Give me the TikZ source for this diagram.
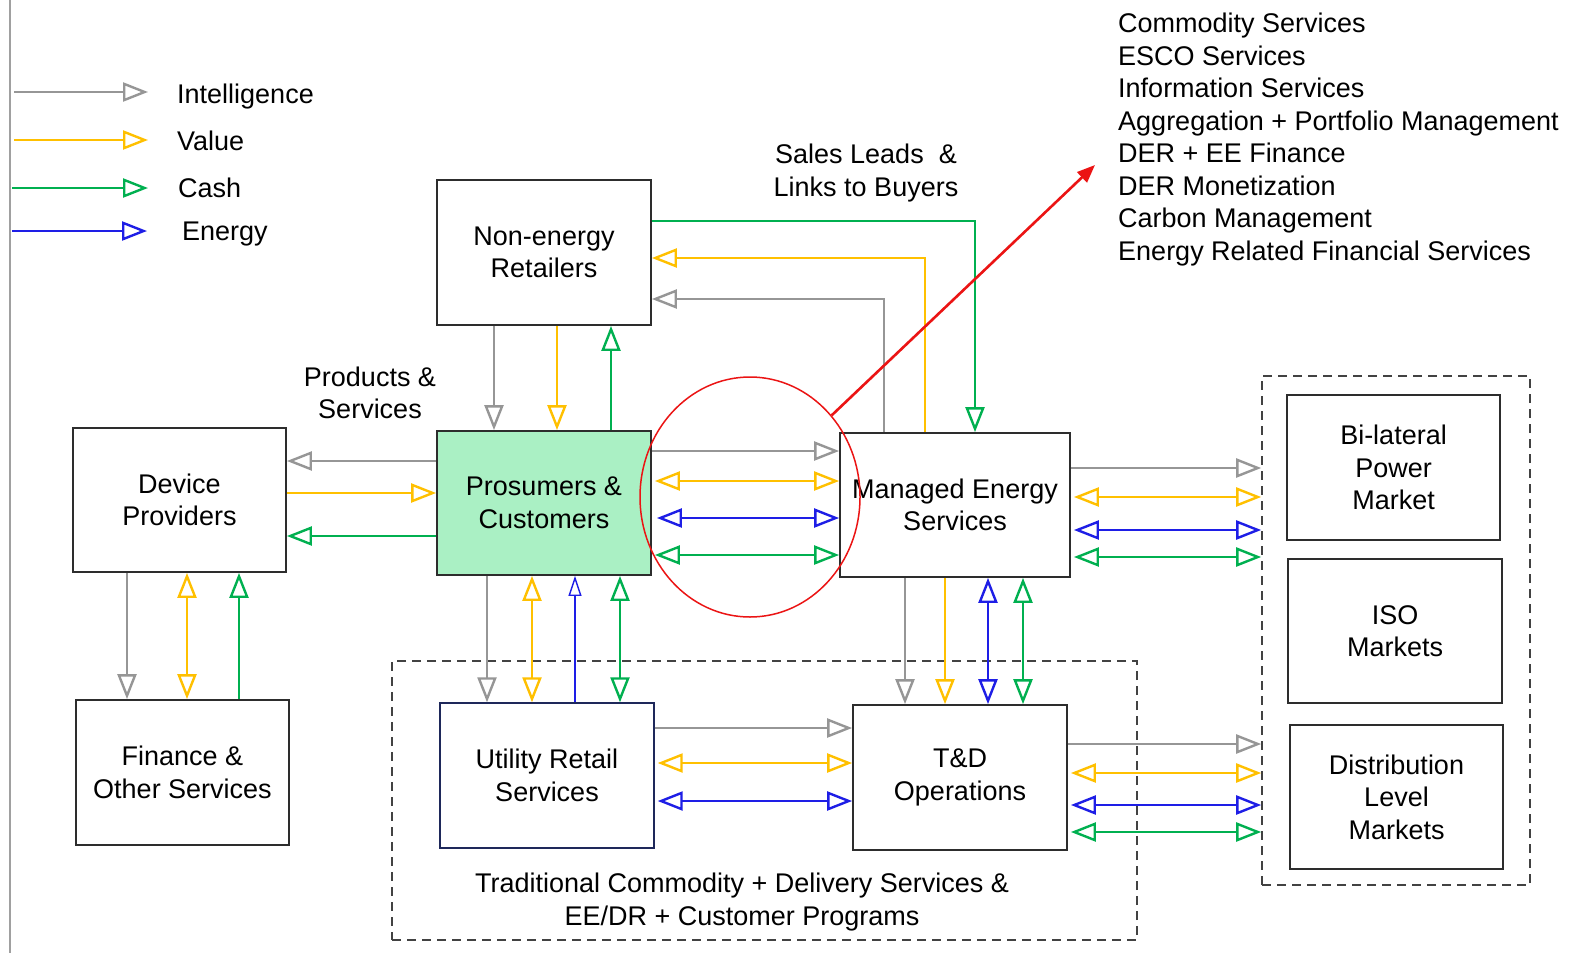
\documentclass[tikz,border=0pt]{standalone}
\usepackage{fontspec}
\setmainfont{Liberation Sans}
\usetikzlibrary{arrows.meta,shapes.geometric}
\definecolor{cgray}{RGB}{150,150,150}
\definecolor{cyel}{RGB}{255,192,0}
\definecolor{cgrn}{RGB}{0,176,80}
\definecolor{cblu}{RGB}{30,30,230}
\definecolor{cfill}{RGB}{170,240,196}
\definecolor{cbox}{RGB}{45,45,45}
\definecolor{cnavy}{RGB}{30,40,90}
\definecolor{cred}{RGB}{235,20,20}
\tikzset{
  txt/.style={font=\fontsize{27}{32.5}\selectfont, inner sep=0pt, align=center},
  box/.style={txt, draw=cbox, line width=1.8pt},
  dbox/.style={draw=cbox!90, line width=1.6pt, dash pattern=on 9pt off 6pt, inner sep=0pt},
  ig/.style={draw=cgray, line width=2.4pt},
  vy/.style={draw=cyel, line width=2.4pt},
  cg/.style={draw=cgrn, line width=2.4pt},
  eb/.style={draw=cblu, line width=2.4pt},
  one/.style={-{Triangle[open,length=25pt,width=19pt]}},
  two/.style={{Triangle[open,length=25pt,width=19pt]}-{Triangle[open,length=25pt,width=19pt]}},
}
\begin{document}
\begin{tikzpicture}[x=1pt,y=-1pt]
\useasboundingbox (0,0) rectangle (1589,953);
\fill[white] (0,0) rectangle (1589,953);
\draw[cgray!90, line width=2pt] (10,0) -- (10,953);

% legend
\coordinate (L1s) at (14,92);  \coordinate (L1e) at (148,92);
\coordinate (L2s) at (14,140); \coordinate (L2e) at (148,140);
\coordinate (L3s) at (12,188); \coordinate (L3e) at (148,188);
\coordinate (L4s) at (12,231); \coordinate (L4e) at (147,231);
\draw[ig,one] (L1s) -- (L1e);
\draw[vy,one] (L2s) -- (L2e);
\draw[cg,one] (L3s) -- (L3e);
\draw[eb,one] (L4s) -- (L4e);
\node[txt, anchor=base west] (T1) at (177,103) {Intelligence};
\node[txt, anchor=base west] (T2) at (177,150) {Value};
\node[txt, anchor=base west] (T3) at (178,197) {Cash};
\node[txt, anchor=base west] (T4) at (182,240) {Energy};

% service list
\node[txt, align=left, anchor=north west] (LIST) at (1118,13) {Commodity Services\\ESCO Services\\Information Services\\Aggregation + Portfolio Management\\DER + EE Finance\\DER Monetization\\Carbon Management\\Energy Related Financial Services};

% labels
\node[txt] (SL) at (866,173) {Sales Leads \ \&\\Links to Buyers};
\node[txt] (PS) at (370,393) {Products \&\\Services};

% dashed groups
\node[dbox, minimum width=268pt, minimum height=509pt] (MKT) at (1396,630.5) {};
\node[dbox, minimum width=745pt, minimum height=279pt] (TRAD) at (764.5,800.5) {};
\node[txt] (TRL) at (742,902) {Traditional Commodity + Delivery Services \&\\EE/DR + Customer Programs};

% boxes
\node[box, minimum width=214pt, minimum height=145pt] (NER) at (544,252.5) {Non-energy\\Retailers};
\node[box, minimum width=213pt, minimum height=144pt] (DP) at (179.5,500) {Device\\Providers};
\node[box, fill=cfill, minimum width=214pt, minimum height=144pt] (PC) at (544,503) {Prosumers \&\\Customers};
\node[box, minimum width=230pt, minimum height=144pt] (MES) at (955,505) {Managed Energy\\Services};
\node[box, minimum width=213pt, minimum height=145pt] (FOS) at (182.5,772.5) {Finance \&\\Other Services};
\node[box, draw=cnavy, line width=1.4pt, minimum width=214pt, minimum height=145pt] (URS) at (547,775.5) {Utility Retail\\Services};
\node[box, minimum width=214pt, minimum height=145pt] (TD) at (960,777.5) {T\&D\\Operations};
\node[box, minimum width=213pt, minimum height=145pt] (BPM) at (1393.5,467.5) {Bi-lateral\\Power\\Market};
\node[box, minimum width=214pt, minimum height=144pt] (ISO) at (1395,631) {ISO\\Markets};
\node[box, minimum width=213pt, minimum height=144pt] (DLM) at (1396.5,797) {Distribution\\Level\\Markets};

% NER <-> PC
\draw[ig,one] (494,0 |- NER.south) -- (494,0 |- PC.north);
\draw[vy,one] (557,0 |- NER.south) -- (557,0 |- PC.north);
\draw[cg,one] (611,0 |- PC.north) -- (611,0 |- NER.south);

% NER <-> MES
\draw[cg,one] (NER.east |- 0,221) -| (975,0 |- MES.north);
\draw[vy,one] (925,0 |- MES.north) |- (NER.east |- 0,258);
\draw[ig,one] (884,0 |- MES.north) |- (NER.east |- 0,299);

% PC <-> DP
\draw[ig,one] (PC.west |- 0,461) -- (DP.east |- 0,461);
\draw[vy,one] (DP.east |- 0,493) -- (PC.west |- 0,493);
\draw[cg,one] (PC.west |- 0,536) -- (DP.east |- 0,536);

% PC <-> MES
\draw[ig,one] (PC.east |- 0,451) -- (MES.west |- 0,451);
\draw[vy,two,shorten <=3pt] (PC.east |- 0,481) -- (MES.west |- 0,481);
\draw[eb,two,shorten <=5pt] (PC.east |- 0,518) -- (MES.west |- 0,518);
\draw[cg,two,shorten <=3pt] (PC.east |- 0,555) -- (MES.west |- 0,555);

% DP <-> FOS
\draw[ig,one] (127,0 |- DP.south) -- (127,0 |- FOS.north);
\draw[vy,two] (187,0 |- DP.south) -- (187,0 |- FOS.north);
\draw[cg,one] (239,0 |- FOS.north) -- (239,0 |- DP.south);

% PC <-> URS
\draw[ig,one] (487,0 |- PC.south) -- (487,0 |- URS.north);
\draw[vy,two] (532,0 |- PC.south) -- (532,0 |- URS.north);
\draw[draw=cblu, line width=1.4pt, -{Triangle[open,length=20pt,width=13pt]}] (575,0 |- URS.north) -- (575,0 |- PC.south);
\draw[cg,two] (620,0 |- PC.south) -- (620,0 |- URS.north);

% MES <-> TD
\draw[ig,one] (905,0 |- MES.south) -- (905,0 |- TD.north);
\draw[vy,one] (945,0 |- MES.south) -- (945,0 |- TD.north);
\draw[eb,two] (988,0 |- MES.south) -- (988,0 |- TD.north);
\draw[cg,two] (1023,0 |- MES.south) -- (1023,0 |- TD.north);

% URS <-> TD
\draw[ig,one] (URS.east |- 0,728) -- (TD.west |- 0,728);
\draw[vy,two,shorten <=3pt] (URS.east |- 0,763) -- (TD.west |- 0,763);
\draw[eb,two,shorten <=3pt] (URS.east |- 0,801) -- (TD.west |- 0,801);

% MES -> markets
\draw[ig,one] (MES.east |- 0,468) -- (MKT.west |- 0,468);
\draw[vy,two,shorten <=3pt] (MES.east |- 0,497) -- (MKT.west |- 0,497);
\draw[eb,two,shorten <=3pt] (MES.east |- 0,530) -- (MKT.west |- 0,530);
\draw[cg,two,shorten <=3pt] (MES.east |- 0,557) -- (MKT.west |- 0,557);

% TD -> markets
\draw[ig,one] (TD.east |- 0,744) -- (MKT.west |- 0,744);
\draw[vy,two,shorten <=3pt] (TD.east |- 0,773) -- (MKT.west |- 0,773);
\draw[eb,two,shorten <=3pt] (TD.east |- 0,805) -- (MKT.west |- 0,805);
\draw[cg,two,shorten <=3pt] (TD.east |- 0,832) -- (MKT.west |- 0,832);

% red highlight
\node[draw=cred, line width=1.5pt, ellipse, inner sep=0pt, minimum width=220pt, minimum height=240pt] (RC) at (750,497) {};
\coordinate (RT) at (1095,165);
\draw[draw=cred, line width=2.6pt, -{Triangle[length=18pt,width=14pt]}] (RC.45) -- (RT);
\end{tikzpicture}
\end{document}
